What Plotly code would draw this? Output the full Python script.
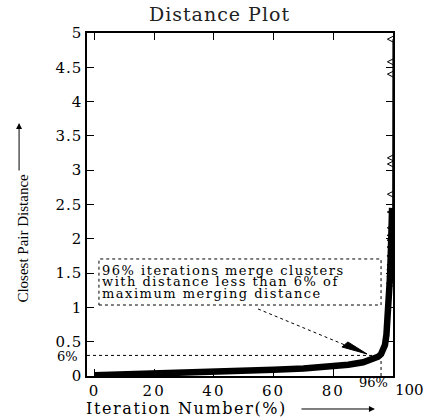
import plotly.graph_objects as go

# ---- data ----
iter_pct = [0, 20, 40, 60, 70, 80, 85, 90, 93, 95, 96, 96.8, 97.3, 97.8, 98.3, 98.7, 99.0, 99.3, 99.5, 99.7]
pair_dist = [0.01, 0.03, 0.055, 0.09, 0.11, 0.14, 0.165, 0.2, 0.24, 0.28, 0.32, 0.38, 0.45, 0.6, 0.85, 1.1, 1.45, 1.84, 2.15, 2.45]

tail_pct = [99.7, 99.8, 99.8, 99.85, 99.85, 99.9, 99.9, 99.9, 99.95, 99.95, 100, 100, 100, 100, 100, 100]
tail_dist = [1.35, 1.45, 1.55, 1.62, 1.75, 1.88, 1.98, 2.05, 2.16, 2.39, 2.65, 3.09, 3.18, 4.40, 4.58, 4.91]

x_ticks = [0, 20, 40, 60, 80]
x_tick_text = ["0", "20", "40", "60", "80"]
y_ticks = [0, 0.5, 1, 1.5, 2, 2.5, 3, 3.5, 4, 4.5, 5]
y_tick_text = ["0", "0.5", "1", "1.5", "2", "2.5", "3", "3.5", "4", "4.5", "5"]

threshold_pct = 96
threshold_dist = 0.3
box_lines = ["96% iterations merge clusters",
             "with distance less than 6% of",
             "maximum merging distance"]

X_RANGE = [-2.5, 100]
Y_RANGE = [0, 5]

SERIF = "DejaVu Serif"
TIMES = "Liberation Serif"


def wide(s, px):
    return '<span style="letter-spacing:%spx">%s</span>' % (px, s)


fig = go.Figure()

fig.add_trace(go.Scatter(x=iter_pct, y=pair_dist, mode="lines",
                         line=dict(color="black", width=6.5), hoverinfo="skip"))
fig.add_trace(go.Scatter(x=tail_pct, y=tail_dist, mode="lines+markers",
                         line=dict(color="black", width=1.2),
                         marker=dict(symbol="diamond-wide-open", size=8,
                                     color="black", line=dict(width=1, color="black")),
                         hoverinfo="skip"))

# dotted guide lines
fig.add_shape(type="line", x0=X_RANGE[0], x1=threshold_pct, y0=threshold_dist, y1=threshold_dist,
              line=dict(color="black", width=1, dash="dot"))
fig.add_shape(type="line", x0=threshold_pct, x1=threshold_pct, y0=0, y1=threshold_dist,
              line=dict(color="black", width=1, dash="dot"))
# dotted text box
fig.add_shape(type="rect", x0=1.5, x1=threshold_pct, y0=1.035, y1=1.706,
              line=dict(color="black", width=1, dash="dot"))
# dotted arrow line and head
fig.add_shape(type="line", x0=54.8, y0=0.977, x1=84.0, y1=0.45,
              line=dict(color="black", width=1, dash="dot"))
fig.add_shape(type="path", path="M 82.9 0.423 L 84.9 0.496 L 91.3 0.321 Z",
              fillcolor="black", line=dict(color="black", width=1))

for txt, yv in zip(box_lines, [1.545, 1.375, 1.205]):
    fig.add_annotation(x=1.8, y=yv, xref="x", yref="y", text=wide(txt, 1.5), showarrow=False,
                       xanchor="left", yanchor="middle",
                       font=dict(family=SERIF, size=13, color="black"))

fig.add_annotation(x=0, xref="paper", y=threshold_dist, yref="y", text="6%", showarrow=False,
                   xanchor="right", yanchor="middle", xshift=-7, yshift=-1,
                   font=dict(family=SERIF, size=13, color="black"))
fig.add_annotation(x=threshold_pct, xref="x", y=-0.02, yref="paper", text="96%", showarrow=False,
                   xanchor="center", yanchor="middle", xshift=-8,
                   font=dict(family=SERIF, size=13, color="black"))
fig.add_annotation(x=1, xref="paper", y=-0.04, yref="paper", text="100", showarrow=False,
                   xanchor="left", yanchor="middle", xshift=0,
                   font=dict(family=SERIF, size=15, color="black"))

# axis titles with arrows
fig.add_annotation(x=0.325, xref="paper", y=-0.0962, yref="paper",
                   text=wide("Iteration Number(%)", 1.6),
                   showarrow=False, xanchor="center", yanchor="middle",
                   font=dict(family=SERIF, size=16, color="black"))
fig.add_annotation(x=0.941, xref="paper", y=-0.0962, yref="paper", text="", showarrow=True,
                   ax=-75, ay=0, arrowhead=2, arrowsize=1.2, arrowwidth=1, arrowcolor="black")
fig.add_annotation(x=-0.2075, xref="paper", y=0.402, yref="paper", text="Closest Pair Distance",
                   showarrow=False, textangle=-90, xanchor="center", yanchor="middle",
                   font=dict(family=TIMES, size=15, color="black"))
fig.add_annotation(x=-0.222, xref="paper", y=0.7376, yref="paper", text="", showarrow=True,
                   ax=0, ay=49, arrowhead=2, arrowsize=1.2, arrowwidth=1, arrowcolor="black")

fig.update_layout(
    width=427, height=420,
    margin=dict(l=87, r=34, t=33, b=44),
    paper_bgcolor="white", plot_bgcolor="white",
    showlegend=False,
    title=dict(text=wide("Distance Plot", 1), x=0.433, xref="paper", xanchor="center",
               y=0.967, yref="container", yanchor="middle",
               font=dict(family=SERIF, size=19, color="#222")),
    xaxis=dict(range=X_RANGE, tickvals=x_ticks, ticktext=[wide(t, 2) for t in x_tick_text],
               ticks="inside", ticklen=7, tickwidth=1,
               tickcolor="black", showline=True, linecolor="black", linewidth=1.5,
               mirror="ticks", showgrid=False, zeroline=False,
               tickfont=dict(family=SERIF, size=15, color="black")),
    yaxis=dict(range=Y_RANGE, tickvals=y_ticks, ticktext=[wide(t, 1) for t in y_tick_text],
               ticks="inside", ticklen=7, tickwidth=1, tickcolor="black", showline=True,
               linecolor="black", linewidth=1.5, mirror="ticks", showgrid=False, zeroline=False,
               tickfont=dict(family=SERIF, size=15, color="black")),
)

fig.write_html("out.html", config={"displayModeBar": False},
               post_script="document.body.style.margin='0';")
